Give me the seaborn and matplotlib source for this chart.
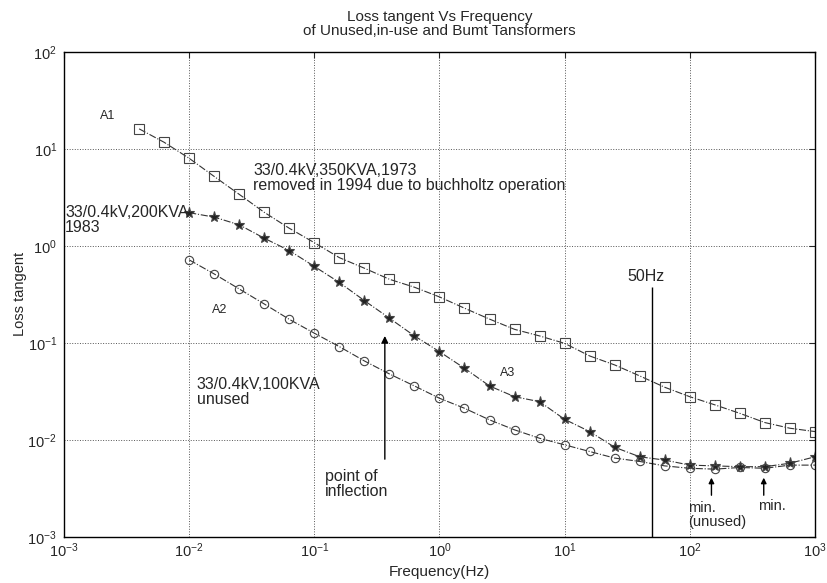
import numpy as np
import pandas as pd
import matplotlib
matplotlib.use('Agg')
import matplotlib.pyplot as plt
import seaborn as sns

# frequencies: every 0.2 decade
logf_a1 = [-2.4, -2.2, -2.0, -1.8, -1.6, -1.4, -1.2, -1.0, -0.8, -0.6, -0.4, -0.2, 0.0,
           0.2, 0.4, 0.6, 0.8, 1.0, 1.2, 1.4, 1.6, 1.8, 2.0, 2.2, 2.4, 2.6, 2.8, 3.0]
logf_a23 = [-2.0, -1.8, -1.6, -1.4, -1.2, -1.0, -0.8, -0.6, -0.4, -0.2, 0.0,
            0.2, 0.4, 0.6, 0.8, 1.0, 1.2, 1.4, 1.6, 1.8, 2.0, 2.2, 2.4, 2.6, 2.8, 3.0]

# A1 : 33/0.4kV 350KVA 1973 (burnt)
tan_a1 = [16.1, 11.7, 8.0, 5.2, 3.4, 2.22, 1.52, 1.08, 0.757, 0.589, 0.453, 0.375, 0.298,
          0.228, 0.176, 0.138, 0.118, 0.099, 0.0734, 0.0593, 0.0457, 0.0349, 0.0279,
          0.0230, 0.0188, 0.0151, 0.0132, 0.0122]
# A3 : 33/0.4kV 200KVA 1983 (in use)
tan_a3 = [2.2, 1.98, 1.65, 1.20, 0.895, 0.615, 0.42, 0.273, 0.18, 0.118, 0.0813,
          0.0548, 0.0360, 0.0279, 0.0248, 0.0163, 0.0122, 0.0084, 0.0067, 0.0062,
          0.0055, 0.0054, 0.0053, 0.0053, 0.00575, 0.0067]
# A2 : 33/0.4kV 100KVA unused
tan_a2 = [0.718, 0.514, 0.36, 0.252, 0.175, 0.126, 0.0916, 0.0652, 0.0479, 0.036, 0.0269,
          0.0212, 0.0161, 0.0127, 0.0104, 0.0089, 0.0076, 0.0065, 0.0060, 0.0054,
          0.0051, 0.0050, 0.0052, 0.0051, 0.0055, 0.0055]

f_a1 = 10 ** np.array(logf_a1)
f_a23 = 10 ** np.array(logf_a23)

df = pd.concat([
    pd.DataFrame({'f': f_a1, 'tan': tan_a1, 'tr': 'A1'}),
    pd.DataFrame({'f': f_a23, 'tan': tan_a3, 'tr': 'A3'}),
    pd.DataFrame({'f': f_a23, 'tan': tan_a2, 'tr': 'A2'}),
])

sns.set_style('white')
plt.rcParams['font.family'] = ['Liberation Sans', 'DejaVu Sans']

fig = plt.figure(figsize=(8.27, 5.83), dpi=100)
ax = fig.add_axes([0.0774, 0.079, 0.908, 0.832])

markers = {'A1': 's', 'A3': '*', 'A2': 'o'}
msize = {'A1': 7, 'A3': 8, 'A2': 6}
for name in ['A1', 'A3', 'A2']:
    sub = df[df['tr'] == name]
    sns.lineplot(data=sub, x='f', y='tan', ax=ax, color='#333333', linewidth=0.8,
                 linestyle='-.', marker=markers[name], markersize=msize[name],
                 markerfacecolor='none' if name != 'A3' else '#222222',
                 markeredgecolor='#444444', markeredgewidth=0.8, legend=False)

ax.set_xscale('log')
ax.set_yscale('log')
ax.set_xlim(1e-3, 1e3)
ax.set_ylim(1e-3, 1e2)
ax.minorticks_off()
ax.grid(True, which='major', linestyle=':', color='#555555', linewidth=0.7)
ax.tick_params(direction='in', top=True, right=True, labelsize=10.5, length=4)
ax.tick_params(axis='y', pad=5)
for s in ax.spines.values():
    s.set_color('black')
    s.set_linewidth(1.0)

big = 11.5
ax.set_xlabel('Frequency(Hz)', fontsize=11, labelpad=3)
ax.set_ylabel('Loss tangent', fontsize=10.5)
ax.yaxis.set_label_coords(-0.049, 0.5)
ax.set_title('Loss tangent Vs Frequency\nof Unused,in-use and Bumt Tansformers',
             fontsize=11, pad=12, linespacing=1.05)

# 50 Hz marker
ax.vlines(50, 1e-3, 0.381, color='black', linewidth=1.0)
ax.text(32, 0.479, '50Hz', fontsize=big, va='center', ha='left')

# labels
ax.text(0.00194, 21.9, 'A1', fontsize=9, va='center', ha='left')
ax.text(0.0324, 5.0, '33/0.4kV,350KVA,1973\nremoved in 1994 due to buchholtz operation',
        fontsize=big, va='center', ha='left', linespacing=1.0)
ax.text(0.00102, 1.85, '33/0.4kV,200KVA\n1983', fontsize=big, va='center', ha='left',
        linespacing=1.0)
ax.text(0.0152, 0.219, 'A2', fontsize=9, va='center', ha='left')
ax.text(0.01153, 0.0313, '33/0.4kV,100KVA\nunused', fontsize=big, va='center', ha='left',
        linespacing=1.0)
ax.text(3.03, 0.0491, 'A3', fontsize=9, va='center', ha='left')

ax.annotate('', xy=(0.366, 0.126), xytext=(0.366, 0.00593),
            arrowprops=dict(arrowstyle='-|>', color='black', lw=1.0, mutation_scale=10))
ax.text(0.1216, 0.00352, 'point of\ninflection', fontsize=big, va='center', ha='left',
        linespacing=1.0)

ax.annotate('', xy=(149, 0.00436), xytext=(149, 0.00252),
            arrowprops=dict(arrowstyle='-|>', color='black', lw=1.0, mutation_scale=8))
ax.annotate('', xy=(390, 0.00436), xytext=(390, 0.00252),
            arrowprops=dict(arrowstyle='-|>', color='black', lw=1.0, mutation_scale=8))
ax.text(96.4, 0.00235, 'min.\n(unused)', fontsize=10.5, va='top', ha='left', linespacing=1.0)
ax.text(349, 0.00209, 'min.', fontsize=10.5, va='center', ha='left')

fig.savefig('out.png', dpi=100)
